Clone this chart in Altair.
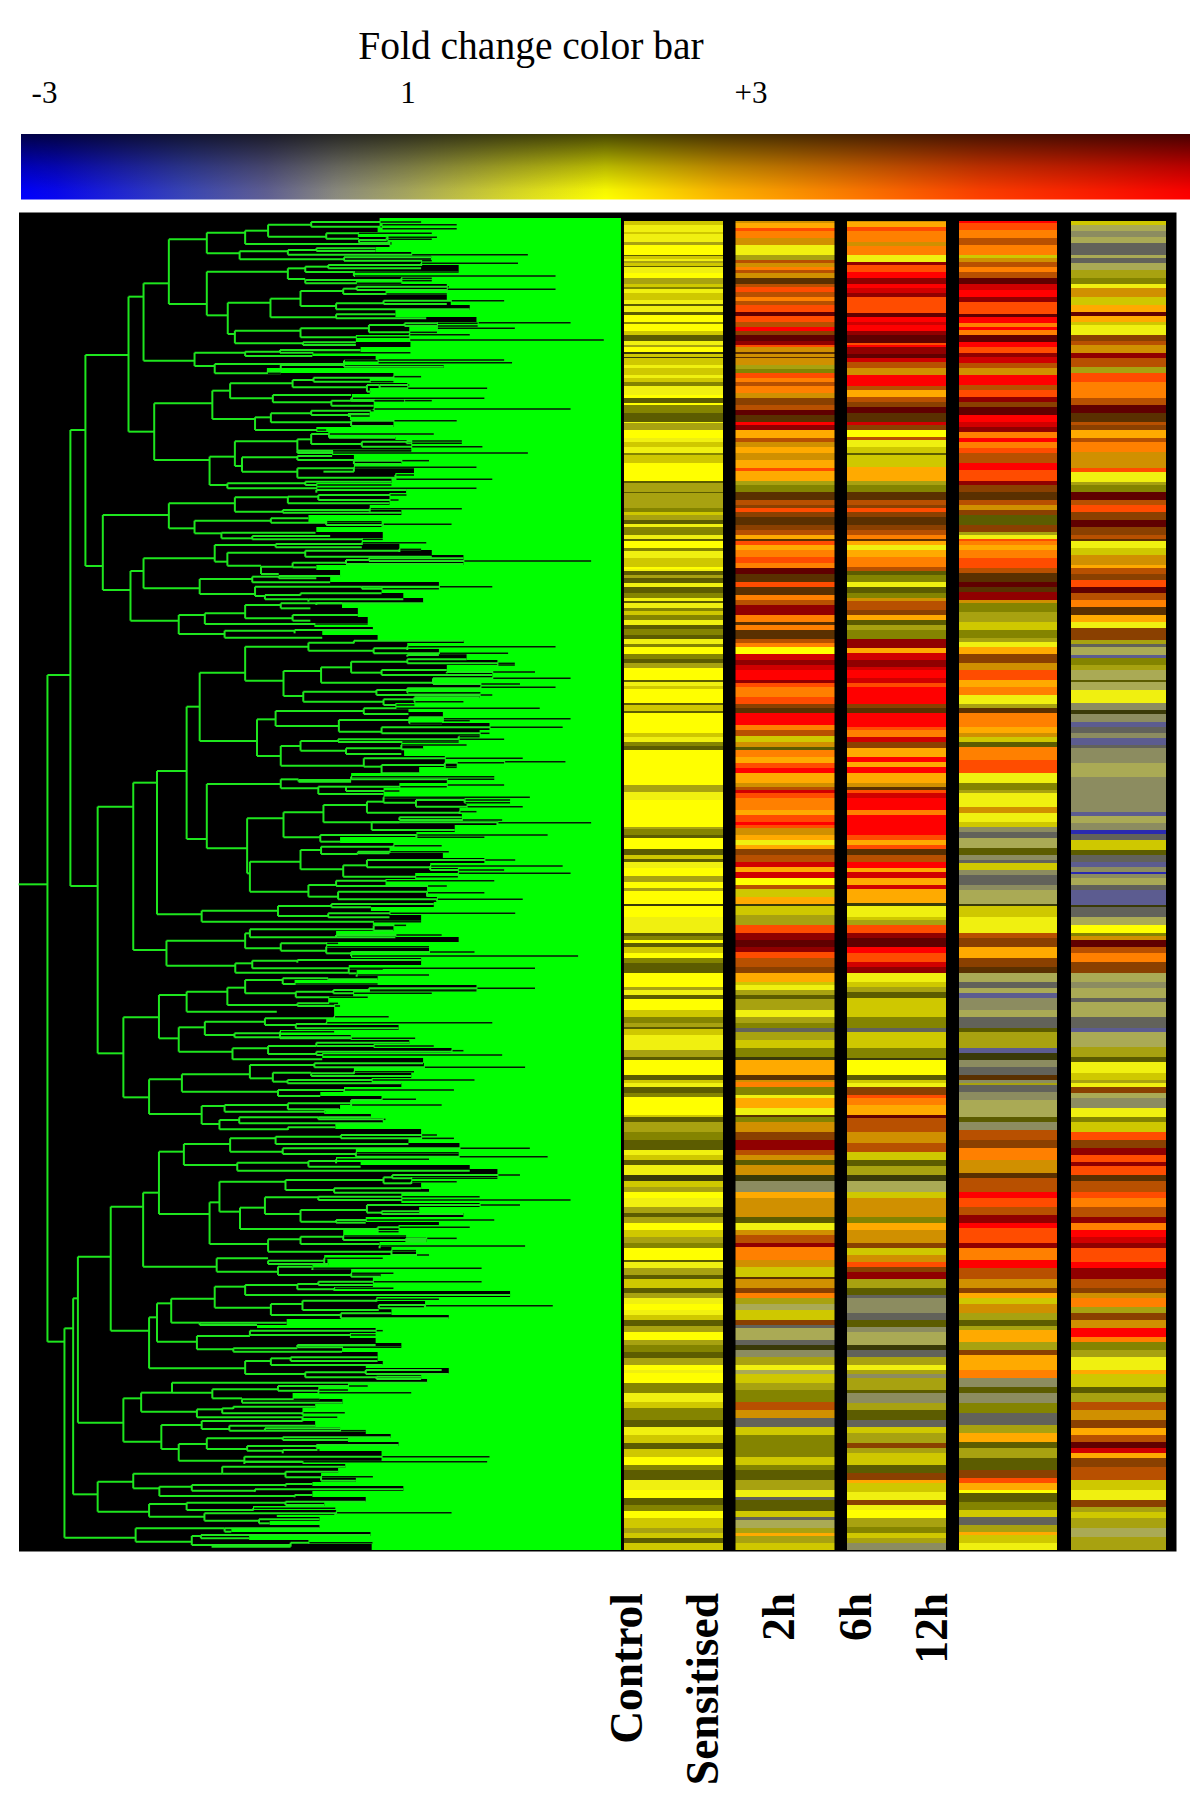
import altair as alt
import numpy as np
import pandas as pd

# ---------------------------------------------------------------- text
TITLE = "Fold change color bar"
BAR_TICKS = ["-3", "1", "+3"]
SAMPLES = ["Control", "Sensitised", "2h", "6h", "12h"]

# ---------------------------------------------------------------- heat map colours
PALETTE = {
    "Y": "#ffff00", "y": "#f0f010", "l": "#cfc800", "k": "#a8a210", "d": "#848400",
    "D": "#5c5c00", "B": "#3a3a08", "G": "#aaaa55", "g": "#8c8c60", "S": "#62625a",
    "b": "#5c5c90", "U": "#2a2ab0", "O": "#ffaa00", "o": "#ff8000", "R": "#ff4c00",
    "r": "#ff0000", "m": "#d00000", "M": "#900000", "N": "#600000", "T": "#b85000",
    "t": "#8a4000", "n": "#5a3000", "A": "#d09000",
}

# each block: "<row where band ends><colour code>", one block per stretch of rows
COL_CONTROL = [
 "45l 65y 72l 95y 105k 134Y 139D 147l 153y 158k 167l 172D 190y 205Y 222k 232l 237d 250y 270l 282y 288D 305y 316D 336Y 343d 363Y 375l 392D 405y 410k 426Y 432B 440l 445B 465l 475y 495l 505y 517l 528d 555y 565Y 580D 586Y 610d 620D 636D 640y 660k 685Y 695y 710l 730y 736d 760l 785Y 812Y 820D 845k 850D 870k",
 "25k 35d 45l 60k 72D 80y 105d 118y 122D 145Y 152d 175y 200l 207Y 212y 225D 235k 248D 262y 280D 295d 302y 310D 325y 332d 345l 360d 375y 388D 405d 418D 432y 442d 462Y 478d 490D 505k 540Y 546D 558y 566l 610Y 616D 632l 640D 700Y 710l 725y 738d 750D 855Y 870k",
 "5k 30y 110Y 117k 135d 145D 178Y 195D 208l 215D 235y 258Y 275k 295Y 302k 342Y 347B 380Y 405y 430y 437D 450d 458Y 472D 490l 503Y 520d 540D 550D 590Y 600k 615y 628D 660Y 680l 700d 712k 718D 735l 780y 800k 810D 855Y 870D",
 "8l 20y 40D 52d 105Y 112l 125D 155k 180d 210D 225y 240l 255D 285y 302B 320l 335k 355Y 380y 400k 410D 428k 450Y 470l 490k 505d 540Y 547D 565y 585k 598D 625l 640D 655k 672y 690Y 705y 720l 738D 755k 780Y 795k 815d 835D 855k 870Y",
 "10y 40Y 70d 95y 115l 150d 170D 195y 220l 238D 262l 285Y 300d 330D 360y 385Y 405D 423d 445Y 475l 490k 505l 520D 540l",
]
COL_SENS = [
 "40A 55O 62R 85o 105A 135y 150k 160T 170A 180o 190T 205A 222n 232T 247R 262T 272o 285T 305R 318N 335R 350T 362r 375t 392N 405M 412R 426A 432n 440A 445n 465A 478k 490d 505R 517o 528T 550o 565A 585t 600T 615N 635n 645r 660M 685O 695T 712A 730O 750A 775O 782R 812O 825k 845d 870n",
 "15T 25t 35R 50t 75n 90t 105T 118O 122n 135R 150O 170o 190R 205o 222N 245n 262R 285n 300o 315T 345M 365o 375n 390o 418n 430T 442o 462Y 480m 495M 510m 540r 548M 560R 590o 612R 625t 640n 675r 690o 708T 725l 740A 750D 770o 790O 805R 820r 850O 860A 870T",
 "10m 25R 60o 75O 95R 105r 115R 135A 150O 165y 178O 195t 215T 232m 245O 265m 285Y 298T 320l 342O 347B 375l 390k 405k 430R 450M 470N 485M 505R 530T 550t 575O 585l 600y 615k 628D 660k 680y 700k 715d 725S 750k 775l 800d 810B 830O 855O 870n",
 "5A 20o 45d 55y 85O 105y 112n 125d 155A 180t 210M 225T 240A 255D 285A 302B 335g 355O 410A 428D 450y 465A 490T 500M 540o 560A 590l 598n 625A 640t 655o 672k 690G 720l 735t 745S 780G 795S 810B 830g 855k 870y",
 "12G 40l 60k 95d 120T 145A 170S 195l 220d 262d 285l 300d 330D 360k 380y 390S 423D 440l 450S 475G 490k 497O 520k 540l",
]
COL_2H = [
 "35A 50O 62R 95o 108A 135o 155y 165M 185R 205r 222M 235r 250m 262M 285R 308R 320N 335r 345m 362r 375M 398N 405R 412r 432M 445N 455m 475T 495A 528r 540T 560O 575T 590t 610N 635n 645m 660t 680Y 690T 712y 730l 735D 770l 775O 812O 825k 845d 870n",
 "15T 25t 35R 50t 75n 90t 105T 118o 122n 135O 150y 170O 200o 212T 225D 245d 262y 280D 295d 302A 330T 345t 360O 375D 390k 418d 430M 445M 460O 480m 500M 510m 535r 548m 560R 590r 612r 625t 640n 680r 690R 710o 725m 745t 770O 785r 800O 820r 850O 860A 870n",
 "10R 25m 60r 75o 135r 150R 165O 178R 195n 215T 235r 245O 265m 285O 298m 340O 347B 380y 390l 405k 430R 445M 470N 490r 515R 530m 550M 575y 590l 605k 625D 680l 715d 725S 775l 805d 810B 855Y 870D",
 "8l 20y 45t 55R 75o 105O 115N 125T 155T 190A 215T 230l 240l 258D 285k 302B 335G 355l 385A 410A 428d 450O 490A 505t 525l 545A 560R 575t 598M 625k 645D 655S 700g 720S 740D 755g 795G 810B 830S 855k 870y",
 "12k 25g 60k 70D 100g 120k 150D 170S 190l 220k 235t 250k 285l 310D 330t 340O 365l 390y 405t 420y 445Y 470k 490d 505l 520k 540g",
]
COL_6H = [
 "40r 60R 85o 105T 135o 145l 155A 170T 185o 205T 222N 240m 262r 275M 295R 312R 320N 340r 350o 360r 375o 395N 410r 430R 440M 460m 475T 495A 525r 540T 560R 575M 590t 615N 635r 650m 665M 685o 695r 715o 730R 760T 780r 812R 825M 845t 870n",
 "15T 30A 45t 75D 95t 105k 118y 122R 135o 150O 175o 205R 220T 245n 262N 275n 300M 310A 335d 350k 365k 390l 415d 425k 442y 462O 490t 510A 540R 560O 585o 612y 625k 640n 680o 700O 710A 725l 740D 752o 780o 800R 820R 850y 870d",
 "10k 50y 70A 95y 112l 125g 145S 175G 195D 210g 220S 240l 255g 285S 300g 342G 347B 380l 390y 430y 445T 470t 490O 505O 530t 550n 575G 595S 610G 625b 660g 680G 715S 725D 775k 790b 810B 830g 855S 870n",
 "8g 15k 35S 60g 85G 112G 125D 150g 180T 205t 240o 255A 280A 295n 335T 355r 380R 405T 430M 445r 490R 505M 540o 565r 598T 625A 640t 655O 672l 700A 720k 738D 750k 785O 810k 825t 870O",
 "25o 50g 70D 100g 130d 165S 190k 215O 235D 265k 300D 325t 340R 360O 370Y 395D 420d 440l 465S 485k 495O 520l 540y",
]
COL_12H = [
 "45l 62G 80g 100G 135S 145G 160S 180G 205k 222d 235y 255A 262A 285l 305O 318N 335O 345l 375y 392t 405T 430A 445M 470T 490k 515R 530o 565o 585T 610N 635n 645T 660t 685O 695T 725o 775A 785R 815y 825k 845d 870N",
 "15T 35R 60t 80N 105t 118T 122n 145y 165l 195A 205O 222T 240t 262R 280N 300T 320o 345n 365O 385y 420t 432k 442S 465G 475b 495d 510k 540G 546D 570G 610y 630g 642B 665g 680b 700S 715g 735b 745S 790g 830G 870g",
 "15g 65g 78b 100G 120g 132U 150S 180l 195D 215S 232b 245g 252U 265g 285G 300S 345b 350B 380S 405G 430Y 437d 450A 470N 490T 515o 550t 575G 595g 625G 635S 680G 715S 725b 770G 800k 815D 850y 870l",
 "8k 20y 40t 55G 85g 110y 125d 155l 180R 205t 225M 245R 258M 285R 302n 335T 355R 380o 410T 430M 450o 470r 490m 505M 545R 565r 598M 625T 640t 655A 680o 700k 720t 745A 770r 785o 810d 830k 870y",
 "12O 50l 70D 95k 120T 150A 175t 195O 215T 235N 250m 265O 290t 330T 360l 390y 410t 425k 445l 475k 500G 540k",
]
COLUMNS = [COL_CONTROL, COL_SENS, COL_2H, COL_6H, COL_12H]

# ---------------------------------------------------------------- dendrogram merges
# each merge: join position, upper row, lower row, right end of upper arm, right end of lower arm
TREE_A = """
216 435 1068 325 260
325 260 665 363 390
363 220 452 427 492
427 88 282 523 523
523 68 130 620 606
620 62 102 678 990
678 44 80 787 825
787 36 50 1065 965
965 44 56 1155 1155
825 70 86 1092 908
908 90 98 978 990
978 82 88 1105 1092
606 124 148 728 870
728 120 134 800 1335
800 115 123 950 950
870 142 152 1092 1092
523 185 316 728 576
728 175 207 772 772
772 170 186 830 895
895 186 198 1160 1405
830 165 175 1065 1065
1065 160 168 1310 1065
772 210 220 1015 1015
1015 205 212 1092 1092
576 278 372 684 594
684 266 322 760 850
760 243 288 868 850
868 236 252 902 1130
902 230 240 1135 1130
1130 238 248 1405 1130
850 280 298 970 1188
970 272 282 1275 1130
850 313 325 1000 1078
594 362 400 760 766
760 355 382 933 1035
933 345 367 1023 1105
1023 340 348 1208 1208
1208 338 344 1443 1208
1105 355 362 1302 1105
1035 374 390 1188 1527
766 397 405 900 900
492 428 468 620 543
620 425 438 708 790
708 420 428 912 1038
543 462 490 870 710
870 452 470 955 1122
955 450 458 1275 1295
710 465 485 870 675
390 580 750 537 530
537 542 627 582 645
582 520 565 740 690
740 510 532 793 928
793 503 515 995 995
995 500 506 1065 995
928 525 545 960 938
960 525 535 1035 1232
690 555 577 888 838
888 565 572 1225 1022
838 572 587 1022 945
1022 572 580 1092 1022
645 622 660 685 825
685 610 637 787 888
787 602 615 945 880
945 597 604 1443 945
880 612 618 935 935
888 632 648 1155 995
530 740 825 594 575
594 694 768 752 612
752 688 722 787 1040
787 672 702 832 915
832 672 683 1097 1000
915 695 710 1028 1220
1028 693 700 1168 1168
752 722 729 1040 1335
612 742 785 752 752
752 738 750 840 895
895 752 762 1085 1015
752 775 803 895 1000
895 772 785 1205 818
1000 795 808 1047 1245
575 820 835 772 1205
772 815 825 990 990
800 840 848 1027 800
260 915 1140 427 330
427 880 955 594 492
594 862 905 728 715
728 860 880 805 985
805 855 870 1028 1008
715 900 908 935 1015
935 896 905 1168 935
492 932 970 685 560
685 925 938 780 825
825 935 945 965 968
968 943 950 1142 968
560 968 985 798 638
638 978 988 835 968
330 1083 1232 363 452
363 1045 1135 543 505
543 1005 1055 697 575
697 1002 1012 915 915
915 998 1005 1078 915
575 1028 1067 772 660
772 1022 1040 1010 1092
1010 1018 1026 1065 1010
660 1070 1092 740 705
740 1058 1072 875 800
875 1050 1062 933 1172
933 1045 1053 1172 1495
505 1107 1152 638 645
638 1100 1117 705 835
705 1098 1105 860 800
645 1130 1158 915 670
915 1130 1136 1245 1110
670 1155 1168 760 780
760 1150 1156 965 760
780 1168 1175 1020 780
800 1180 1185 1070 800
"""
TREE_B = """
120 195 2195 178 163
178 -540 828 216 247
452 15 72 518 568
518 10 42 620 930
620 -15 25 710 740
710 -20 -5 865 785
740 15 32 905 785
568 62 83 745 815
745 60 70 943 745
247 590 1330 337 312
337 518 1020 397 421
397 483 913 472 510
472 290 687 505 523
505 188 393 620 650
620 110 212 780 717
780 98 122 895 945
895 92 100 1173 895
945 115 130 1030 1285
1030 110 120 1405 1030
1030 135 140 1110 1030
717 183 258 812 767
812 172 218 888 1095
888 155 188 1030 965
1030 148 160 1180 1302
1258 165 170 1302 1258
965 180 195 1130 1245
1130 186 190 1353 1130
1095 205 222 1443 1315
767 245 275 952 970
952 240 255 1030 1245
1030 235 248 1215 1215
1215 232 238 1405 1215
970 268 285 1048 1048
1048 262 275 1213 1172
650 328 438 697 710
697 303 348 920 857
920 295 312 1365 1033
857 330 365 1035 965
1035 322 340 1120 1118
1120 326 332 1443 1188
965 352 370 1423 1238
710 408 467 760 920
760 393 422 855 875
855 388 396 1160 1160
1160 380 388 1213 1275
875 415 432 1015 1015
1015 405 418 1180 1070
920 445 470 1322 965
965 465 490 1125 1060
1125 458 472 1275 1155
1275 455 462 1430 1275
523 522 715 710 625
710 508 535 755 805
755 510 515 888 888
888 500 508 1250 1250
805 530 552 875 970
875 530 543 1130 1010
1130 525 530 1275 1130
625 625 790 717 632
717 607 682 818 810
818 585 637 928 1010
928 575 608 970 1162
970 562 578 1340 1052
1052 570 590 1175 1322
1175 570 578 1290 1290
1162 605 612 1205 1162
1010 622 630 1168 1270
940 637 660 1258 1150
1258 638 645 1495 1258
810 675 695 1053 860
1053 675 682 1385 1225
632 755 845 760 780
760 720 778 812 868
812 710 732 995 905
995 707 712 1117 995
905 725 730 1135 985
868 766 800 928 1158
928 750 772 1303 1088
1088 768 780 1423 1275
1158 790 797 1443 1158
780 825 860 850 855
850 812 828 1250 1130
855 845 868 1080 1105
1080 848 860 1225 1080
1105 868 875 1322 1105
510 902 935 703 1065
703 888 918 838 830
838 882 892 1097 938
830 910 922 1303 985
421 992 1067 620 595
620 970 1015 632 710
632 958 982 945 850
945 946 962 1027 995
850 975 982 1117 1000
710 1000 1022 855 825
825 1010 1030 1085 888
888 1026 1038 1200 1462
595 1060 1088 638 882
638 1052 1075 752 1353
752 1050 1058 1065 752
882 1077 1090 968 902
902 1095 1100 1085 902
402 1155 1285 472 452
472 1145 1205 575 700
575 1133 1185 620 752
620 1110 1150 715 748
715 1105 1122 830 955
830 1108 1113 955 830
748 1145 1162 843 930
843 1140 1150 933 1092
933 1135 1142 1353 1205
752 1180 1188 855 860
"""
TREE_C = """
163 955 1583 185 343
185 865 1453 197 247
197 740 1238 280 312
312 22 262 402 377
452 52 125 518 588
518 35 75 670 593
670 25 45 845 748
845 20 28 983 845
748 42 55 825 1008
825 38 45 1245 825
593 70 82 708 887
708 65 85 845 1050
588 115 148 678 815
678 108 132 800 800
800 98 108 1035 1097
800 125 135 1142 1270
1142 122 128 1172 1142
377 208 312 460 510
460 193 245 632 703
632 165 205 795 690
795 160 172 1070 1328
690 188 215 787 727
787 190 198 895 1040
895 185 192 1047 895
727 210 220 1200 1015
703 240 258 870 810
870 240 245 1148 870
510 288 342 568 555
568 285 305 728 822
728 280 298 888 858
888 270 285 965 1117
965 268 272 1052 965
555 330 358 605 728
605 322 340 805 968
805 322 328 938 975
728 352 360 848 728
280 590 962 362 377
362 548 770 402 548
402 425 612 465 530
465 402 465 582 600
582 385 425 697 715
697 380 402 862 1033
862 375 385 1105 1148
715 415 432 1340 900
900 428 440 1160 1385
600 458 482 780 1188
780 453 470 850 912
850 448 460 1085 850
530 577 702 555 678
555 515 605 722 607
722 510 540 970 845
970 502 520 992 1040
992 495 505 1315 1258
1040 515 522 1155 1040
845 535 548 1065 1085
607 593 657 670 955
670 562 612 805 760
805 560 570 1213 1443
760 600 635 928 850
928 585 608 1315 965
965 604 612 1060 1172
850 630 638 1250 925
955 652 665 1188 1008
678 688 725 760 990
760 680 702 868 960
868 678 690 1027 1078
1027 685 695 1155 1078
960 708 715 1328 960
990 722 735 1052 1085
548 745 785 678 703
678 752 762 820 830
820 745 765 968 828
703 770 795 790 888
790 775 780 1218 790
888 790 800 995 963
377 922 1075 397 620
397 880 995 433 498
433 866 938 543 505
543 830 893 620 685
620 825 855 752 1290
752 822 838 805 845
805 815 825 1218 943
845 835 842 995 845
685 882 915 765 862
765 872 900 952 958
952 868 875 1110 952
958 885 895 1075 1072
1075 887 892 1398 1075
862 910 925 990 1135
505 938 945 725 650
498 978 1018 632 590
632 962 975 968 950
590 1015 1025 752 865
752 1005 1012 950 1015
"""
TREE_D = """
620 3 42 685 772
685 -5 15 735 968
735 -8 3 955 955
772 37 52 925 952
925 30 42 1117 1135
952 50 57 1065 1065
312 115 245 357 408
357 98 155 435 498
435 68 98 1080 537
537 88 115 703 612
703 78 92 930 805
805 90 98 880 1040
612 118 128 808 866
498 148 172 562 765
562 145 160 590 765
590 140 147 797 590
765 158 164 872 765
765 172 184 853 765
408 195 267 510 452
510 183 207 765 580
580 197 212 797 670
670 205 212 860 925
452 252 302 523 618
523 235 267 715 625
715 232 240 988 880
625 258 272 800 715
800 255 262 1008 800
715 270 280 808 715
618 290 305 1238 1232
618 305 312 765 618
247 365 455 337 377
337 341 385 562 403
562 320 341 873 722
722 335 352 855 812
812 350 362 943 900
403 380 408 485 745
485 375 392 722 645
722 372 380 790 722
645 388 395 1020 645
745 405 412 790 745
377 432 470 472 517
472 428 450 722 640
722 425 435 925 820
640 445 452 848 640
517 460 482 848 655
848 458 465 1142 848
655 478 490 808 682
343 505 545 568 485
568 505 515 808 585
485 528 555 508 735
508 525 535 937 630
735 548 560 942 535
"""
TREES = [(TREE_A, 210), (TREE_B, 610), (TREE_C, 1010), (TREE_D, 1360)]
ROOT_ARM = (823, 47, 120)

# ---------------------------------------------------------------- left edge of the green field, row : position
EDGE_A = "25:1065 50:960 65:955 80:905 95:980 110:985 125:950 135:1040 150:1090 165:1065 185:1160 200:895 210:1015 222:900 240:1130 255:975 270:1130 285:1140 300:1188 320:1000 335:1205 350:1105 375:1035 395:900 410:1038 425:912 437:790 450:950 465:870 475:1122 490:675 505:995 520:935 535:1030 552:935 570:890 585:945 600:945 615:935 630:885 650:995 665:800 680:830 690:1000 705:1040 720:1040 735:840 750:895 762:1015 775:895 790:1047 805:1000 820:990 835:800 850:1027 870:985 885:985 900:935 915:1015 935:780 950:965 965:800 985:968 1000:915 1020:1010 1035:1092 1050:1172 1065:1172 1080:800 1100:860 1115:835 1130:1110 1150:965 1165:1020 1180:1070 1195:865"
EDGE_B = "20:905 40:930 50:795 60:943 75:815 90:955 100:1173 118:1030 130:1110 150:1180 165:1258 185:1130 205:1245 220:1095 235:1215 250:1030 265:1213 280:1048 295:1000 305:1033 322:1120 340:1035 360:1238 378:1213 392:1160 405:1015 420:1070 438:1022 455:1125 470:1155 490:1060 505:888 520:1130 535:1010 552:970 565:970 580:1175 595:1180 612:1162 630:1168 645:1258 665:1150 682:1053 700:860 712:995 730:985 745:1120 760:1225 775:1088 790:1158 806:1050 825:975 845:1080 860:1080 875:1105 890:1097 903:938 915:985 932:1065 945:943 962:995 972:850 982:1000 995:1160 1015:825 1030:1085 1045:888 1065:1065 1080:882 1095:902 1110:955 1125:745 1140:1205 1160:893 1182:830"
EDGE_C = "25:845 45:825 60:1008 75:708 90:887 102:1035 115:945 128:1142 145:815 160:1070 175:1072 188:895 205:1040 218:940 230:1015 245:870 258:810 272:965 285:888 298:860 312:820 325:938 340:968 358:848 370:1065 385:1065 398:1033 415:1162 430:900 442:1160 455:850 465:912 478:1188 490:1258 500:1258 515:1040 538:1065 548:1085 562:1015 578:1015 592:1213 608:1060 622:1172 635:925 645:1110 660:1008 680:868 695:1078 708:960 722:990 735:1052 745:820 765:828 775:790 790:888 800:963 815:943 830:943 842:845 860:1290 872:952 888:1075 895:1072 915:990 928:1135 945:725 955:650 968:950 985:885 1000:950 1010:1015 1025:865"
EDGE_D = "3:955 15:968 25:925 42:1135 57:1065 68:1080 82:880 98:805 118:740 132:866 145:797 160:765 184:765 200:797 212:860 222:925 235:988 245:880 258:1008 272:800 285:965 302:965 312:765 325:873 340:855 352:812 365:900 378:790 392:1020 410:790 427:925 438:820 450:640 465:850 472:700 482:808 495:682 505:808 515:585 528:937 540:630 552:780 570:940"
EDGES = [(EDGE_A, 210), (EDGE_B, 610), (EDGE_C, 1010), (EDGE_D, 1360)]

# ---------------------------------------------------------------- build tables
X_UNIT = 620 / 1568
HEAT_X = [(624, 723), (735.5, 834.5), (847, 946), (959, 1057), (1071, 1166)]
BLOCK_Y = [210, 500, 790, 1080, 1370]

heat_rows = []
for (x0, x1), col in zip(HEAT_X, COLUMNS):
    for block, base in zip(col, BLOCK_Y):
        prev = 32 if base == 210 else 0
        for tok in block.split():
            end, code = int(tok[:-1]), tok[-1]
            heat_rows.append(dict(x0=x0, x1=x1, y0=round(base + prev / 3), y1=round(base + end / 3), code=code))
            prev = end
heat = pd.DataFrame(heat_rows)

edge_y, edge_x = [], []
for txt, base in EDGES:
    for tok in txt.split():
        a, b = tok.split(":")
        edge_y.append(base + int(a) / 3)
        edge_x.append(int(b) * X_UNIT)
edge_y = np.array(edge_y)
edge_x = np.array(edge_x)

green_rows = []
prev_y = 218
for yy, xx in zip(edge_y, edge_x):
    green_rows.append(dict(x0=xx, x1=621, y0=round(prev_y), y1=round(yy)))
    prev_y = yy
green_rows.append(dict(x0=edge_x[-1], x1=621, y0=round(prev_y), y1=1550))
green = pd.DataFrame(green_rows)


def edge_at(y):
    i = min(np.searchsorted(edge_y, y), len(edge_y) - 1)
    return edge_x[i]


segs, spikes = [], []


def arm(y, xa, xb):
    segs.append(dict(x0=xa, x1=xb, y0=y, y1=y))
    start = max(xa, edge_at(y))
    if xb > start:
        spikes.append(dict(x0=start + 1, x1=xb, y0=y, y1=y))


for txt, base in TREES:
    for line in txt.strip().splitlines():
        x, a, b, xa, xb = [float(v) for v in line.split()]
        x, xa, xb = x * X_UNIT, xa * X_UNIT, xb * X_UNIT
        ya, yb = base + a / 3, base + b / 3
        segs.append(dict(x0=x, x1=x, y0=ya, y1=yb))
        arm(ya, x, xa)
        arm(yb, x, xb)
r, ra, rb = ROOT_ARM
segs.append(dict(x0=ra * X_UNIT, x1=rb * X_UNIT, y0=610 + r / 3, y1=610 + r / 3))
segs = pd.DataFrame(segs)
spikes = pd.DataFrame(spikes)

# ---------------------------------------------------------------- chart
xs = alt.Scale(domain=[8, 1192], nice=False, zero=False)
ys = alt.Scale(domain=[8, 1793], nice=False, zero=False, reverse=True)
X = lambda f: alt.X(f, type="quantitative", scale=xs, axis=None)
Y = lambda f: alt.Y(f, type="quantitative", scale=ys, axis=None)


def box(x0, x1, y0, y1):
    return pd.DataFrame([dict(x0=x0, x1=x1, y0=y0, y1=y1)])


def rect(df, **kw):
    return alt.Chart(df).mark_rect(**kw).encode(x=X("x0"), x2="x1", y=Y("y0"), y2="y1")


bar_h = alt.LinearGradient(
    gradient="linear", x1=0, x2=1, y1=0, y2=0,
    stops=[alt.GradientStop(color=c, offset=o) for o, c in [
        (0, "#0000ff"), (0.03, "#0808f0"), (0.14, "#3a46b8"), (0.21, "#606094"), (0.27, "#8c8c80"),
        (0.33, "#a8a860"), (0.42, "#d8d828"), (0.5, "#ffff00"), (0.6, "#ffb400"), (0.7, "#ff8000"),
        (0.82, "#ff4000"), (1, "#ff0000")]])
bar_v = alt.LinearGradient(
    gradient="linear", x1=0, x2=0, y1=0, y2=1,
    stops=[alt.GradientStop(color=c, offset=o) for o, c in [
        (0, "rgba(0,0,0,0.72)"), (0.5, "rgba(0,0,0,0.28)"), (0.85, "rgba(0,0,0,0.04)"), (1, "rgba(0,0,0,0)")]])

BAR_BOX = box(21, 1190, 134, 199.5)

layers = [
    rect(BAR_BOX, color=bar_h),
    rect(BAR_BOX, color=bar_v),
    rect(box(19, 1176.5, 212.5, 1551.5), color="#000000"),
    rect(green, color="#00ff00"),
    alt.Chart(segs).mark_rule(color="#1ee61e", strokeWidth=2).encode(x=X("x0"), x2="x1", y=Y("y0"), y2="y1"),
    alt.Chart(spikes).mark_rule(color="#001c00", strokeWidth=1.5).encode(x=X("x0"), x2="x1", y=Y("y0"), y2="y1"),
    alt.Chart(heat).mark_rect().encode(
        x=X("x0"), x2="x1", y=Y("y0"), y2="y1",
        color=alt.Color("code:N", legend=None,
                        scale=alt.Scale(domain=list(PALETTE), range=list(PALETTE.values())))),
]

title_df = pd.DataFrame(dict(t=[TITLE], x=[531], y=[59]))
layers.append(alt.Chart(title_df).mark_text(
    font="Liberation Serif", fontSize=39.5, align="center", baseline="alphabetic", color="#000000"
).encode(x=X("x"), y=Y("y"), text="t:N"))

ticks_df = pd.DataFrame(dict(t=BAR_TICKS, x=[44.5, 408, 751], y=[103, 103, 103]))
layers.append(alt.Chart(ticks_df).mark_text(
    font="Liberation Serif", fontSize=31, align="center", baseline="alphabetic", color="#000000"
).encode(x=X("x"), y=Y("y"), text="t:N"))

labels = pd.DataFrame(dict(t=SAMPLES, x=[642, 718, 794, 871, 947], y=[1593] * 5))
layers.append(alt.Chart(labels).mark_text(
    font="Liberation Serif", fontSize=45.5, fontWeight="bold", angle=270, align="right",
    baseline="alphabetic", color="#000000").encode(x=X("x"), y=Y("y"), text="t:N"))

chart = alt.layer(*layers).properties(
    width=1184, height=1785, padding=0, autosize=alt.AutoSizeParams(type="none"), background="#ffffff"
).configure_view(stroke=None)

chart.save("out.html", embed_options={"renderer": "svg", "actions": False})
